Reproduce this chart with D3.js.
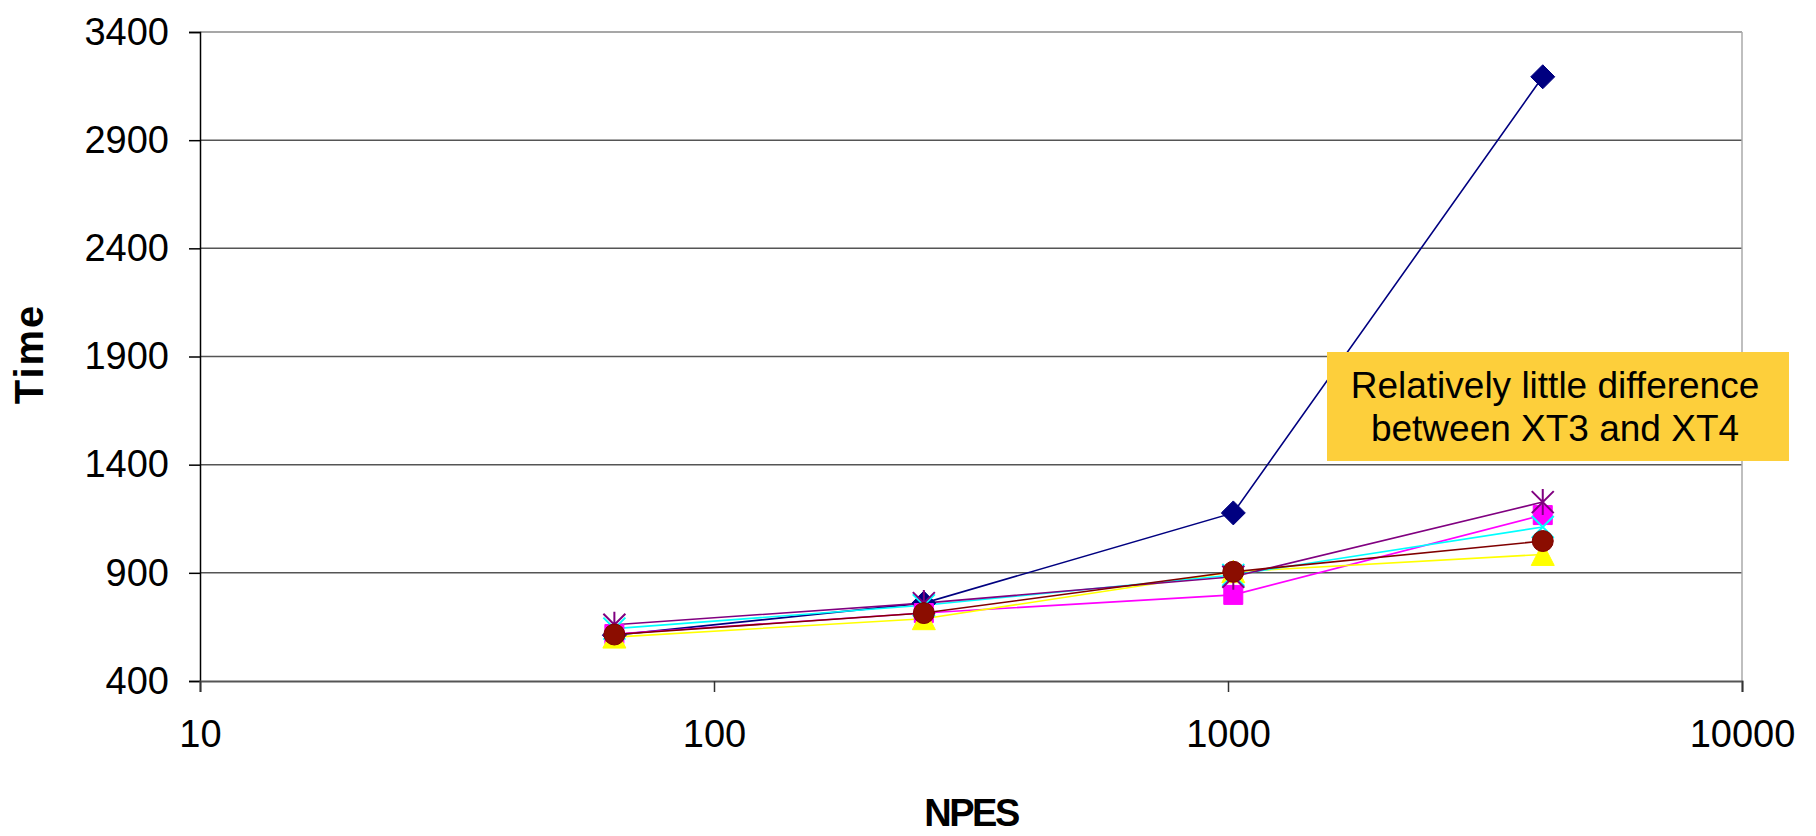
<!DOCTYPE html>
<html>
<head>
<meta charset="utf-8">
<script src="https://cdn.jsdelivr.net/npm/d3@7"></script>
<style>
  html, body { margin: 0; padding: 0; background: #fff; }
  svg { display: block; }
  text { font-family: "Liberation Sans", Arial, sans-serif; }
</style>
</head>
<body>
<svg id="chart" width="1816" height="836"></svg>
<script>
// ---- data ----
const npes = [64, 256, 1024, 4096];
const seriesBlue    = [612, 760, 1177, 3193];
const seriesMagenta = [617, 714, 798, 1167];
const seriesYellow  = [603, 688, 905, 985];
const seriesCyan    = [642, 750, 890, 1112];
const seriesPurple  = [660, 760, 882, 1227];
const seriesDarkRed = [615, 714, 905, 1047];
const xTicks = [10, 100, 1000, 10000];
const yTicks = [400, 900, 1400, 1900, 2400, 2900, 3400];
const xTitle = "NPES";
const yTitle = "Time";
const noteLines = ["Relatively little difference", "between XT3 and XT4"];

const series = [
  { values: seriesBlue,    color: "#000080", fill: "#000080", marker: "diamond" },
  { values: seriesMagenta, color: "#ff00ff", fill: "#ff00ff", marker: "square" },
  { values: seriesYellow,  color: "#ffff00", fill: "#ffff00", marker: "triangle" },
  { values: seriesCyan,    color: "#00ffff", fill: "none",    marker: "x" },
  { values: seriesPurple,  color: "#800080", fill: "none",    marker: "star" },
  { values: seriesDarkRed, color: "#800000", fill: "#8b0d00", marker: "circle" }
];

const svg = d3.select("#chart");
const L = 200, R = 1742, T = 32, B = 681;

const x = d3.scaleLog().domain([10, 10000]).range([L, R]);
const y = d3.scaleLinear().domain([400, 3400]).range([B, T]);

// gridlines
svg.append("g").selectAll("line").data(yTicks.filter(d => d > 400)).join("line")
  .attr("x1", L).attr("x2", R)
  .attr("y1", d => y(d)).attr("y2", d => y(d))
  .attr("stroke", d => d === 3400 ? "#8a8a8a" : "#555").attr("stroke-width", 1.5);

// right border
svg.append("line").attr("x1", R).attr("x2", R).attr("y1", T).attr("y2", B)
  .attr("stroke", "#aaa").attr("stroke-width", 1.5);

// y axis
const yAxis = d3.axisLeft(y).tickValues(yTicks).tickSize(11).tickPadding(20)
  .tickFormat(d3.format("d"));
const gy = svg.append("g").attr("transform", `translate(${L},0)`).call(yAxis);
gy.select(".domain").attr("stroke", "#000").attr("stroke-width", 1.5);
gy.selectAll(".tick line").attr("stroke", "#000").attr("stroke-width", 1.5);
gy.selectAll(".tick text").attr("font-size", 38).attr("fill", "#000")
  .style("font-family", "'Liberation Sans', Arial, sans-serif");

// x axis
const xAxis = d3.axisBottom(x).tickValues(xTicks).tickSize(11).tickPadding(28)
  .tickFormat(d3.format("d"));
const gx = svg.append("g").attr("transform", `translate(0,${B})`).call(xAxis);
gx.select(".domain").attr("stroke", "#555").attr("stroke-width", 2);
gx.selectAll(".tick line").attr("stroke", "#333").attr("stroke-width", 1.5);
gx.selectAll(".tick text").attr("font-size", 38).attr("fill", "#000")
  .style("font-family", "'Liberation Sans', Arial, sans-serif");

// axis titles
svg.append("text").attr("x", 971).attr("y", 826).attr("text-anchor", "middle")
  .attr("font-size", 38).attr("font-weight", "bold").attr("letter-spacing", -2.5)
  .text(xTitle);
svg.append("text").attr("transform", "translate(43,354) rotate(-90)")
  .attr("text-anchor", "middle").attr("font-size", 40).attr("font-weight", "bold")
  .attr("letter-spacing", 2).text(yTitle);

// lines & markers
const line = d3.line().x((d, i) => x(npes[i])).y(d => y(d));
const symbolPath = {
  diamond: "M0,-12L12,0L0,12L-12,0Z",
  square: "M-9.5,-9.5H9.5V9.5H-9.5Z",
  triangle: "M0,-11.5L11.5,11L-11.5,11Z",
  x: "M-11,-11L11,11M11,-11L-11,11",
  star: "M-11,-11L11,11M11,-11L-11,11M0,-13V13"
};

series.forEach(s => {
  svg.append("path").datum(s.values).attr("d", line)
    .attr("fill", "none").attr("stroke", s.color).attr("stroke-width", 1.6);
});
series.forEach(s => {
  const g = svg.append("g");
  s.values.forEach((v, i) => {
    const cx = x(npes[i]), cy = y(v);
    if (s.marker === "circle") {
      g.append("circle").attr("cx", cx).attr("cy", cy).attr("r", 10.5)
        .attr("fill", s.fill).attr("stroke", "#800000").attr("stroke-width", 1);
    } else if (s.marker === "x" || s.marker === "star") {
      g.append("path").attr("transform", `translate(${cx},${cy})`)
        .attr("d", symbolPath[s.marker]).attr("fill", "none")
        .attr("stroke", s.color).attr("stroke-width", 2);
    } else {
      g.append("path").attr("transform", `translate(${cx},${cy})`)
        .attr("d", symbolPath[s.marker]).attr("fill", s.fill)
        .attr("stroke", s.color).attr("stroke-width", 1);
    }
  });
});

// annotation box
const note = svg.append("g");
note.append("rect").attr("x", 1327).attr("y", 352).attr("width", 462).attr("height", 109)
  .attr("fill", "#fdcf3b");
note.selectAll("text").data(noteLines).join("text")
  .attr("x", 1555).attr("y", (d, i) => 398 + i * 43)
  .attr("text-anchor", "middle").attr("font-size", 37).attr("fill", "#000")
  .text(d => d);
</script>
</body>
</html>
